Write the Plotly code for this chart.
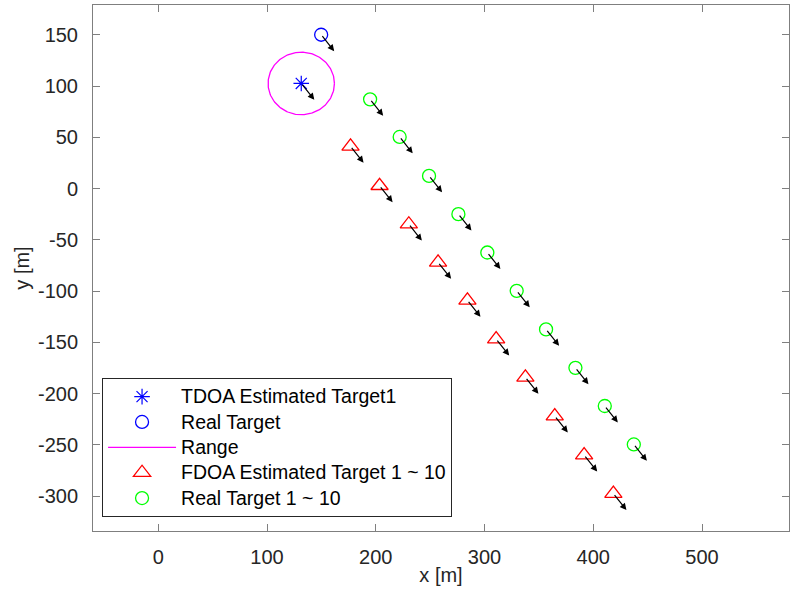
import numpy as np
import plotly.graph_objects as go

# ---- data ----
tdoa_x = [131.5]
tdoa_y = [102.5]
real_x = [149.8]
real_y = [150.0]
range_center = (131.5, 102.5)
range_radius = 30.5

fdoa_x = [176.8, 203.5, 230.4, 257.3, 284.3, 310.7, 337.6, 364.6, 391.6, 418.5]
fdoa_y = [41.2, 2.7, -34.8, -72.0, -109.1, -146.9, -184.2, -221.9, -260.0, -297.6]

real10_x = [194.8, 222.0, 249.0, 276.0, 302.6, 329.6, 356.6, 383.6, 410.6, 437.3]
real10_y = [87.0, 50.3, 12.3, -25.0, -62.4, -99.8, -137.4, -174.9, -212.1, -249.6]

# velocity (arrow) components
vel_u = 12.0
vel_v = -16.0

xticks = [0, 100, 200, 300, 400, 500]
yticks = [150, 100, 50, 0, -50, -100, -150, -200, -250, -300]

FONT = "Liberation Sans, Arial, sans-serif"
TXT = "#262626"
AX = "#7f7f7f"


def lg(s):
    return '<span style="font-size:19.5px">' + s + '</span>'


fig = go.Figure()

fig.add_trace(go.Scatter(x=tdoa_x, y=tdoa_y, mode="markers", name=lg("TDOA Estimated Target1"),
                         marker=dict(symbol="asterisk-open", size=13, color="#0000ff",
                                     line=dict(color="#0000ff", width=1.2))))
fig.add_trace(go.Scatter(x=real_x, y=real_y, mode="markers", name=lg("Real Target"),
                         marker=dict(symbol="circle-open", size=13, color="#0000ff",
                                     line=dict(color="#0000ff", width=1.3))))
t = np.linspace(0, 2 * np.pi, 200)
fig.add_trace(go.Scatter(x=range_center[0] + range_radius * np.cos(t),
                         y=range_center[1] + range_radius * np.sin(t),
                         mode="lines", name=lg("Range"),
                         line=dict(color="#ff00ff", width=1.3)))
fig.add_trace(go.Scatter(x=fdoa_x, y=fdoa_y, mode="markers", name=lg("FDOA Estimated Target 1 ~ 10"),
                         marker=dict(symbol="triangle-up-open", size=15, color="#ff0000",
                                     line=dict(color="#ff0000", width=1.3))))
fig.add_trace(go.Scatter(x=real10_x, y=real10_y, mode="markers", name=lg("Real Target 1 ~ 10"),
                         marker=dict(symbol="circle-open", size=13, color="#00ff00",
                                     line=dict(color="#00ff00", width=1.3))))

starts = list(zip(tdoa_x, tdoa_y)) + list(zip(real_x, real_y)) + \
         list(zip(fdoa_x, fdoa_y)) + list(zip(real10_x, real10_y))
for sx, sy in starts:
    fig.add_annotation(x=sx + vel_u, y=sy + vel_v, ax=sx, ay=sy,
                       xref="x", yref="y", axref="x", ayref="y",
                       showarrow=True, arrowhead=2, arrowsize=1.1, arrowwidth=1.2,
                       arrowcolor="#000000", text="")

fig.update_xaxes(range=[-60, 580], tickvals=xticks, ticktext=[str(v) for v in xticks],
                 ticks="inside", ticklen=7, tickcolor=AX, showline=True, linecolor=AX,
                 linewidth=1, mirror="ticks", showgrid=False, zeroline=False,
                 ticklabelstandoff=8,
                 title=dict(text="x [m]", font=dict(size=20, color=TXT, family=FONT), standoff=0),
                 tickfont=dict(size=20, color=TXT, family=FONT))
fig.update_yaxes(range=[-334, 179], tickvals=yticks, ticktext=[str(v) for v in yticks],
                 ticks="inside", ticklen=7, tickcolor=AX, showline=True, linecolor=AX,
                 linewidth=1, mirror="ticks", showgrid=False, zeroline=False,
                 ticklabelstandoff=10,
                 title=dict(text="y [m]", font=dict(size=20, color=TXT, family=FONT), standoff=2),
                 tickfont=dict(size=20, color=TXT, family=FONT))

fig.update_layout(
    width=790, height=597, autosize=False,
    margin=dict(l=93, r=1, t=5, b=66),
    paper_bgcolor="white", plot_bgcolor="white",
    font=dict(family=FONT, color=TXT, size=19),
    showlegend=True,
    legend=dict(x=0.013, y=0.291, xanchor="left", yanchor="top",
                bordercolor="#262626", borderwidth=1, bgcolor="white",
                font=dict(size=17.2, color="#000000", family=FONT),
                itemwidth=68, tracegroupgap=0),
)

fig.write_html("out.html", config={"responsive": False, "displayModeBar": False})
with open("out.html", "r", encoding="utf-8") as f:
    html = f.read()
html = html.replace("<head>", "<head><style>html,body{margin:0;padding:0;overflow:hidden;}</style>", 1)
with open("out.html", "w", encoding="utf-8") as f:
    f.write(html)
